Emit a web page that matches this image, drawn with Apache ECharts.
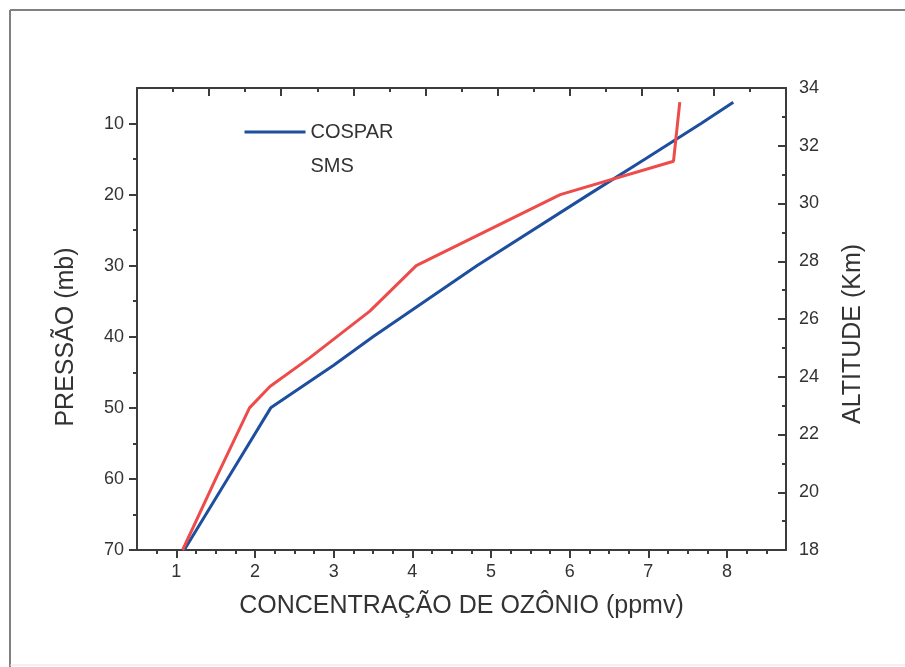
<!DOCTYPE html>
<html>
<head>
<meta charset="utf-8">
<script src="https://cdn.jsdelivr.net/npm/echarts@6/dist/echarts.min.js"></script>
<style>
html,body{margin:0;padding:0;background:#fff;}
#chart{width:905px;height:667px;}
</style>
</head>
<body>
<div id="chart"></div>
<script>
// ---- data ----
const seriesNames = ['COSPAR', 'SMS'];
const cosparPressure = [70, 60, 50, 44, 40, 30, 20, 15, 10, 7];
const cosparConc     = [1.1, 1.65, 2.2, 3.0, 3.5, 4.82, 6.24, 6.96, 7.67, 8.08];
const smsPressure    = [70, 60, 50, 47, 43, 36.4, 30, 20, 15.3, 7];
const smsConc        = [1.08, 1.5, 1.93, 2.19, 2.69, 3.46, 4.05, 5.88, 7.32, 7.40];
const xTickLabels    = [1, 2, 3, 4, 5, 6, 7, 8];
const pressureLabels = [10, 20, 30, 40, 50, 60, 70];
const pressureMinor  = [15, 25, 35, 45, 55, 65];
const xMinor         = [0.75, 1.25, 1.5, 1.75, 2.25, 2.5, 2.75, 3.25, 3.5, 3.75, 4.25, 4.5, 4.75,
                        5.25, 5.5, 5.75, 6.25, 6.5, 6.75, 7.25, 7.5, 7.75, 8.25, 8.5];

const FONT = '"Liberation Sans", Arial, sans-serif';
const AX = '#3c3c3c';
const TXT = '#333';
const BLUE = '#1d4f9e';
const RED = '#ee4b4b';

function pairs(xs, ys) { return xs.map((x, i) => [x, ys[i]]); }

const chart = echarts.init(document.getElementById('chart'), null, {renderer: 'canvas'});
chart.setOption({
  animation: false,
  backgroundColor: '#fff',
  textStyle: {fontFamily: FONT},
  grid: {left: 137, right: 119, top: 88, bottom: 117, containLabel: false},
  legend: {
    orient: 'vertical', left: 238, top: 117,
    itemWidth: 61, itemHeight: 14, itemGap: 14,
    textStyle: {fontSize: 20, color: TXT, fontFamily: FONT},
    data: [
      {name: seriesNames[0], itemStyle: {opacity: 0}, lineStyle: {color: BLUE, width: 3}},
      {name: seriesNames[1], itemStyle: {opacity: 0}, lineStyle: {opacity: 0}}
    ]
  },
  xAxis: [
    {
      type: 'value', gridIndex: 0, position: 'bottom', min: 0.5, max: 8.75,
      name: 'CONCENTRAÇÃO DE OZÔNIO (ppmv)', nameLocation: 'middle', nameGap: 44,
      nameTextStyle: {fontSize: 25, color: TXT, fontFamily: FONT},
      axisLine: {show: true, lineStyle: {color: AX, width: 2}},
      axisTick: {show: true, customValues: xTickLabels, length: 8, lineStyle: {color: AX, width: 2}},
      axisLabel: {show: true, customValues: xTickLabels, fontSize: 18, color: TXT, margin: 13, fontFamily: FONT},
      splitLine: {show: false}
    },
    {
      type: 'value', gridIndex: 0, position: 'bottom', min: 0.5, max: 8.75,
      axisLine: {show: false},
      axisTick: {show: true, customValues: xMinor, length: 4, lineStyle: {color: AX, width: 2}},
      axisLabel: {show: false},
      splitLine: {show: false}
    },
    {
      type: 'value', gridIndex: 0, position: 'top', min: 0, max: 18, interval: 2,
      axisLine: {show: true, lineStyle: {color: AX, width: 2}},
      axisTick: {show: true, inside: true, length: 8, lineStyle: {color: AX, width: 2}},
      minorTick: {show: true, splitNumber: 2, length: 4, lineStyle: {color: AX, width: 2}},
      axisLabel: {show: false},
      splitLine: {show: false}
    }
  ],
  yAxis: [
    {
      type: 'value', gridIndex: 0, position: 'left', inverse: true, min: 5, max: 70,
      name: 'PRESSÃO (mb)', nameLocation: 'middle', nameGap: 58, nameRotate: 90,
      nameTextStyle: {fontSize: 25, color: TXT, fontFamily: FONT, padding: [0, 36, 0, 0]},
      axisLine: {show: true, lineStyle: {color: AX, width: 2}},
      axisTick: {show: true, customValues: pressureLabels, length: 8, lineStyle: {color: AX, width: 2}},
      axisLabel: {show: true, customValues: pressureLabels, fontSize: 18, color: TXT, margin: 13, fontFamily: FONT},
      splitLine: {show: false}
    },
    {
      type: 'value', gridIndex: 0, position: 'left', inverse: true, min: 5, max: 70,
      axisLine: {show: false},
      axisTick: {show: true, customValues: pressureMinor, length: 4, lineStyle: {color: AX, width: 2}},
      axisLabel: {show: false},
      splitLine: {show: false}
    },
    {
      type: 'value', gridIndex: 0, position: 'right', min: 18, max: 34, interval: 2,
      name: 'ALTITUDE (Km)', nameLocation: 'middle', nameGap: 55, nameRotate: 90,
      nameTextStyle: {fontSize: 25, color: TXT, fontFamily: FONT, padding: [0, 30, 0, 0]},
      axisLine: {show: true, lineStyle: {color: AX, width: 2}},
      axisTick: {show: true, inside: true, length: 8, lineStyle: {color: AX, width: 2}},
      minorTick: {show: true, splitNumber: 2, length: 4, lineStyle: {color: AX, width: 2}},
      axisLabel: {show: true, fontSize: 18, color: TXT, margin: 13, fontFamily: FONT},
      splitLine: {show: false}
    }
  ],
  series: [
    {
      name: seriesNames[0], type: 'line', xAxisIndex: 0, yAxisIndex: 0,
      data: pairs(cosparConc, cosparPressure),
      showSymbol: false, symbol: 'none', smooth: false,
      lineStyle: {color: BLUE, width: 3}, itemStyle: {color: BLUE},
      z: 3
    },
    {
      name: seriesNames[1], type: 'line', xAxisIndex: 0, yAxisIndex: 0,
      data: pairs(smsConc, smsPressure),
      showSymbol: false, symbol: 'none', smooth: false,
      lineStyle: {color: RED, width: 3}, itemStyle: {color: RED},
      z: 4
    }
  ],
  graphic: [
    {type: 'line', shape: {x1: 10, y1: 10, x2: 10, y2: 667}, style: {stroke: '#808080', lineWidth: 2}},
    {type: 'line', shape: {x1: 10, y1: 10, x2: 905, y2: 10}, style: {stroke: '#808080', lineWidth: 2}},
    {type: 'line', shape: {x1: 10, y1: 665, x2: 905, y2: 665}, style: {stroke: '#e2e2e2', lineWidth: 1}}
  ]
});
</script>
</body>
</html>
